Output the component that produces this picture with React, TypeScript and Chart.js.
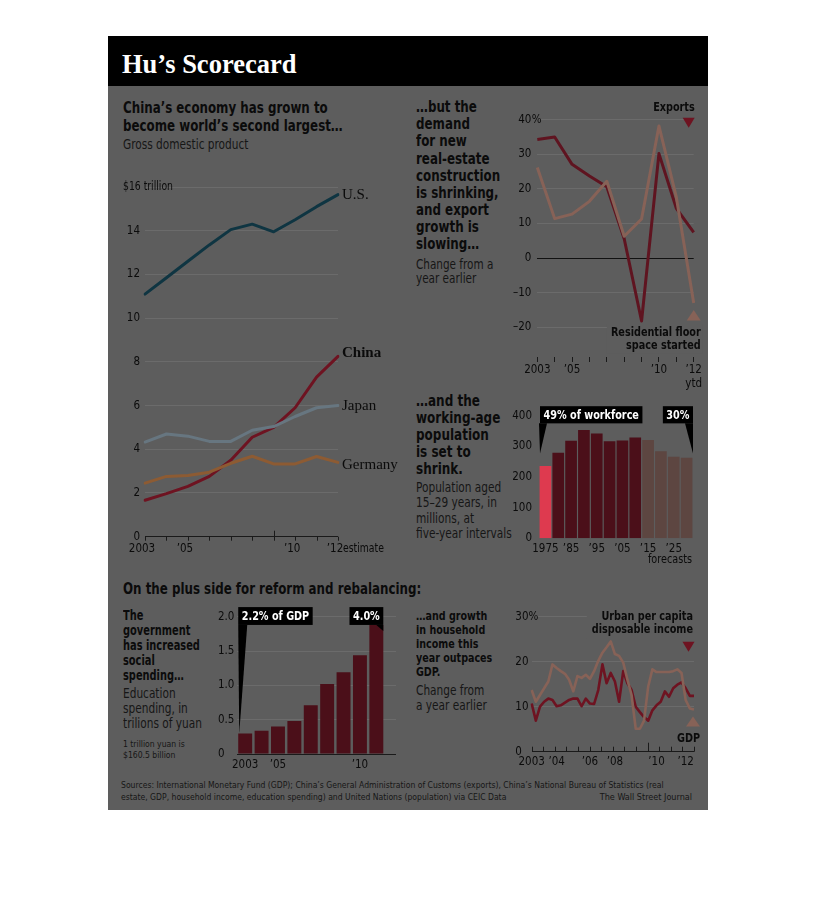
import React, { useEffect, useRef } from "react";
import { Chart, registerables } from "chart.js";

Chart.register(...registerables);

const NARROW = "'DejaVu Sans Condensed', 'Liberation Sans Narrow', sans-serif";
const SERIF = "'Liberation Serif', 'DejaVu Serif', serif";
const INK = "#0b0b0b";
const SUB_INK = "#161616";
const PANEL = "#5d5d5d";
const GRID = "#6b6b6b";
const AXIS = "#1a1a1a";
const SQUEEZE = 0.86;

Chart.defaults.font.family = NARROW;
Chart.defaults.color = INK;

// ===== 1. GDP, $ trillion =====
const gdpYears = ["2003", "2004", "2005", "2006", "2007", "2008", "2009", "2010", "2011", "2012"];
const usGdp = [11.1, 11.85, 12.6, 13.35, 14.05, 14.3, 13.95, 14.5, 15.1, 15.65];
const chinaGdp = [1.67, 1.97, 2.3, 2.76, 3.5, 4.55, 5.0, 5.9, 7.3, 8.25];
const japanGdp = [4.33, 4.7, 4.6, 4.36, 4.36, 4.87, 5.04, 5.5, 5.9, 6.0];
const germanyGdp = [2.45, 2.76, 2.8, 2.95, 3.36, 3.68, 3.33, 3.33, 3.67, 3.4];
const gdpTickLabels = ["2003", "", "’05", "", "", "", "", "’10", "", "’12"];

// ===== 2. Exports / residential floor space, % change =====
const changeYears = ["2003", "2004", "2005", "2006", "2007", "2008", "2009", "2010", "2011", "2012"];
const exportsGrowth = [34.3, 35.0, 27.1, 23.7, 20.6, 5.6, -18.2, 30.2, 14.4, 7.4];
const floorSpaceGrowth = [26.2, 11.4, 12.7, 16.4, 22.2, 6.3, 11.3, 38.2, 17.6, -13.0];
const changeTickLabels: (string | string[])[] = ["2003", "", "’05", "", "", "", "", "’10", "", ["’12", "ytd"]];
const changeYTicks = [-20, -10, 0, 10, 20, 30, 40];

// ===== 3. Population aged 15-29, millions =====
const popYears = ["1975", "1980", "1985", "1990", "1995", "2000", "2005", "2010", "2015", "2020", "2025", "2030"];
const youngPop = [236, 279, 318, 353, 342, 317, 319, 329, 321, 284, 266, 263];
const popTickLabels = ["1975", "", "’85", "", "’95", "", "’05", "", "’15", "", "’25", ""];
const firstForecast = 8;

// ===== 4. Education spending, trillion yuan =====
const eduYears = [2003, 2004, 2005, 2006, 2007, 2008, 2009, 2010, 2011];
const eduSpending = [0.3, 0.34, 0.4, 0.48, 0.71, 1.02, 1.19, 1.44, 1.88];
const eduTickYears = [2003, 2005, 2010];
const eduTickLabels = ["2003", "’05", "’10"];

// ===== 5. Urban income vs GDP, % change (quarterly) =====
const quarters = [
  "2003Q1", "2003Q2", "2003Q3", "2003Q4", "2004Q1", "2004Q2", "2004Q3", "2004Q4",
  "2005Q1", "2005Q2", "2005Q3", "2005Q4", "2006Q1", "2006Q2", "2006Q3", "2006Q4",
  "2007Q1", "2007Q2", "2007Q3", "2007Q4", "2008Q1", "2008Q2", "2008Q3", "2008Q4",
  "2009Q1", "2009Q2", "2009Q3", "2009Q4", "2010Q1", "2010Q2", "2010Q3", "2010Q4",
  "2011Q1", "2011Q2", "2011Q3", "2011Q4", "2012Q1", "2012Q2", "2012Q3", "2012Q4",
];
const incomeGrowth = [
  10.7, 6.9, 10.0, 11.1, 11.8, 11.5, 10.1, 10.3, 10.9, 11.5, 11.8, 11.8, 10.1, 11.8, 10.7, 10.6,
  13.7, 19.4, 15.2, 17.5, 15.6, 11.1, 17.9, 15.2, 13.7, 10.0, 8.8, 7.7, 6.9, 9.2, 10.3, 11.1,
  13.4, 12.2, 14.1, 14.9, 15.4, 14.1, 12.4, 12.4,
];
const gdpGrowth = [
  13.7, 11.1, 12.6, 14.1, 15.6, 19.4, 18.6, 17.9, 17.3, 16.0, 13.4, 16.8, 16.4, 17.1, 16.2, 17.9,
  20.2, 22.0, 23.2, 24.5, 21.7, 21.3, 19.8, 16.0, 12.6, 5.1, 5.1, 6.9, 14.5, 18.3, 17.7, 17.7,
  17.7, 17.7, 17.9, 18.3, 17.5, 11.5, 9.6, 9.4,
];
const quarterTickIdx = [0, 6, 14, 20, 30, 37];
const quarterTickLabels = ["2003", "’04", "’06", "’08", "’10", "’12"];

// colours (as they appear on the dark panel)
const C_US = "#0f3542";
const C_CHINA = "#6e1321";
const C_JAPAN = "#677680";
const C_GERMANY = "#8d5b33";
const C_DARKRED = "#5f1420";
const C_LIGHT = "#876257";
const C_BAR = "#4b0f19";
const C_BAR_FC = "#5d4641";
const C_BAR_HI = "#de3a4f";

const TICK_FONT = { size: 11.5 };
const ANNO_FONT = `bold 12.5px ${NARROW}`;
const noLegend = { legend: { display: false }, tooltip: { enabled: false } };

function tri(ctx: CanvasRenderingContext2D, x: number, y: number, w: number, h: number, up: boolean, color: string) {
  ctx.beginPath();
  if (up) {
    ctx.moveTo(x - w / 2, y + h / 2);
    ctx.lineTo(x + w / 2, y + h / 2);
    ctx.lineTo(x, y - h / 2);
  } else {
    ctx.moveTo(x - w / 2, y - h / 2);
    ctx.lineTo(x + w / 2, y - h / 2);
    ctx.lineTo(x, y + h / 2);
  }
  ctx.closePath();
  ctx.fillStyle = color;
  ctx.fill();
}

function label(
  ctx: CanvasRenderingContext2D,
  s: string,
  x: number,
  y: number,
  font: string,
  align: CanvasTextAlign = "left",
  base: CanvasTextBaseline = "alphabetic",
  color = INK,
  sx = SQUEEZE
) {
  ctx.save();
  ctx.font = font;
  ctx.textAlign = align;
  ctx.textBaseline = base;
  ctx.fillStyle = color;
  ctx.translate(x, y);
  ctx.scale(sx, 1);
  ctx.fillText(s, 0, 0);
  ctx.restore();
}

function squeezedWidth(ctx: CanvasRenderingContext2D, s: string, font: string) {
  ctx.save();
  ctx.font = font;
  const w = ctx.measureText(s).width * SQUEEZE;
  ctx.restore();
  return w;
}

function calloutBox(ctx: CanvasRenderingContext2D, text: string, left: number | null, right: number | null, top: number, bottom: number, wedge: number[]) {
  const w = squeezedWidth(ctx, text, ANNO_FONT) + 7;
  const l = left !== null ? left : (right as number) - w;
  ctx.fillStyle = "#000";
  ctx.fillRect(l, top, w, bottom - top);
  ctx.beginPath();
  ctx.moveTo(wedge[0], wedge[1]);
  ctx.lineTo(wedge[2], wedge[3]);
  ctx.lineTo(wedge[4], wedge[5]);
  ctx.closePath();
  ctx.fill();
  label(ctx, text, l + 3.5, (top + bottom) / 2 + 0.5, ANNO_FONT, "left", "middle", "#ffffff");
}

// ---------- chart 1 ----------
const gdpDecor = {
  id: "gdpDecor",
  afterDraw(chart: any) {
    const { ctx, chartArea: a, scales } = chart;
    const x = scales.x, y = scales.y;
    ctx.save();
    ctx.strokeStyle = AXIS;
    ctx.lineWidth = 1;
    gdpYears.forEach((_, i) => {
      const px = Math.round(x.getPixelForValue(i)) + 0.5;
      ctx.beginPath();
      ctx.moveTo(px, a.bottom - (i === 6 ? 6 : 0));
      ctx.lineTo(px, a.bottom + 4);
      ctx.stroke();
    });
    label(ctx, "$16 trillion", a.left - 22, y.getPixelForValue(16), `12px ${NARROW}`, "left", "middle");
    label(ctx, "estimate", x.getPixelForValue(9) + 5, a.bottom + 12.5, `12px ${NARROW}`, "left", "middle");
    const series: [number[], string, boolean, number][] = [
      [usGdp, "U.S.", false, 0],
      [chinaGdp, "China", true, -3],
      [japanGdp, "Japan", false, 0],
      [germanyGdp, "Germany", false, 3],
    ];
    series.forEach(([vals, name, bold, dy]) => {
      label(ctx, name, a.right + 4, y.getPixelForValue(vals[vals.length - 1]) + dy, `${bold ? "bold " : ""}15px ${SERIF}`, "left", "middle", INK, 1);
    });
    ctx.restore();
  },
};

const makeGdp = () => ({
  type: "line",
  data: {
    labels: gdpYears,
    datasets: [
      { data: usGdp, borderColor: C_US },
      { data: japanGdp, borderColor: C_JAPAN },
      { data: germanyGdp, borderColor: C_GERMANY },
      { data: chinaGdp, borderColor: C_CHINA },
    ],
  },
  options: {
    responsive: false,
    animation: false,
    layout: { padding: { top: 12, right: 62, left: 0, bottom: 0 } },
    elements: { point: { radius: 0 }, line: { tension: 0, borderWidth: 3, borderCapStyle: "round", borderJoinStyle: "round" } },
    plugins: noLegend,
    scales: {
      x: {
        type: "category",
        offset: false,
        grid: { display: false, drawTicks: false },
        border: { display: false },
        ticks: { autoSkip: false, maxRotation: 0, padding: 5, labelOffset: -3, font: TICK_FONT, callback: (_v: any, i: number) => gdpTickLabels[i] },
        afterFit: (s: any) => { s.height = 23.3; },
      },
      y: {
        min: 0,
        max: 16,
        ticks: { stepSize: 2, padding: 5, font: TICK_FONT, callback: (v: number) => (v === 16 ? "" : String(v)) },
        grid: { color: (c: any) => (c.tick && c.tick.value === 0 ? AXIS : GRID), drawTicks: false },
        border: { display: false },
        afterFit: (s: any) => { s.width = 27; },
      },
    },
  },
  plugins: [gdpDecor],
});

// ---------- chart 2 ----------
const changeDecor = {
  id: "changeDecor",
  beforeDatasetsDraw(chart: any) {
    const { ctx, chartArea: a, scales } = chart;
    const y = scales.y;
    const w = squeezedWidth(ctx, "Residential floor", ANNO_FONT);
    ctx.save();
    ctx.fillStyle = PANEL;
    const top = y.getPixelForValue(-19.2);
    ctx.fillRect(a.right + 7 - w - 4, top, w + 6, y.getPixelForValue(-27.5) - top);
    ctx.restore();
  },
  afterDraw(chart: any) {
    const { ctx, chartArea: a, scales } = chart;
    const y = scales.y;
    ctx.save();
    label(ctx, "%", a.left - 6 + 0.5, y.getPixelForValue(40), `11.5px ${NARROW}`, "left", "middle", INK, 1);
    label(ctx, "Exports", a.right + 1, y.getPixelForValue(40) - 8.7, ANNO_FONT, "right");
    tri(ctx, a.right - 5, y.getPixelForValue(40) + 3, 12, 10, false, C_CHINA);
    tri(ctx, a.right, y.getPixelForValue(-16.5), 14, 10.5, true, C_LIGHT);
    label(ctx, "Residential floor", a.right + 7, y.getPixelForValue(-22.6), ANNO_FONT, "right");
    label(ctx, "space started", a.right + 7, y.getPixelForValue(-26.2), ANNO_FONT, "right");
    ctx.restore();
  },
};

const makeChange = () => ({
  type: "line",
  data: {
    labels: changeYears,
    datasets: [
      { data: floorSpaceGrowth, borderColor: C_LIGHT },
      { data: exportsGrowth, borderColor: C_DARKRED },
    ],
  },
  options: {
    responsive: false,
    animation: false,
    layout: { padding: { top: 24.7, right: 16.3, left: 0, bottom: 0 } },
    elements: { point: { radius: 0 }, line: { tension: 0, borderWidth: 3, borderJoinStyle: "round" } },
    plugins: noLegend,
    scales: {
      x: {
        type: "category",
        offset: false,
        grid: { display: true, drawOnChartArea: false, drawTicks: true, tickLength: 5, color: AXIS },
        border: { display: false },
        ticks: { autoSkip: false, maxRotation: 0, padding: 1.5, font: TICK_FONT, callback: (_v: any, i: number) => changeTickLabels[i] },
        afterFit: (s: any) => { s.height = 38; },
      },
      y: {
        min: -28.6,
        max: 40,
        afterBuildTicks: (s: any) => { s.ticks = changeYTicks.map((v) => ({ value: v })); },
        ticks: { padding: 6, font: TICK_FONT, callback: (v: number) => (v < 0 ? "–" + Math.abs(v) : String(v)) },
        grid: { color: (c: any) => (c.tick && c.tick.value === 0 ? "#111111" : GRID), drawTicks: false },
        border: { display: false },
        afterFit: (s: any) => { s.width = 37.3; },
      },
    },
  },
  plugins: [changeDecor],
});

// ---------- chart 3 ----------
const popDecor = {
  id: "popDecor",
  afterDraw(chart: any) {
    const { ctx, chartArea: a, scales } = chart;
    const y = scales.y;
    const top = y.getPixelForValue(431);
    const bottom = y.getPixelForValue(375);
    const tip = y.getPixelForValue(277);
    ctx.save();
    calloutBox(ctx, "49% of workforce", a.left + 1, null, top, bottom, [a.left, bottom, a.left + 8, bottom, a.left + 1, tip]);
    calloutBox(ctx, "30%", null, a.right, top, bottom, [a.right - 8, bottom, a.right, bottom, a.right, tip]);
    label(ctx, "forecasts", a.right - 1, a.bottom + 25, `12.5px ${NARROW}`, "right");
    ctx.restore();
  },
};

const makePop = () => ({
  type: "bar",
  data: {
    labels: popYears,
    datasets: [
      {
        data: youngPop,
        backgroundColor: youngPop.map((_, i) => (i === 0 ? C_BAR_HI : i >= firstForecast ? C_BAR_FC : C_BAR)),
        categoryPercentage: 0.91,
        barPercentage: 1,
      },
    ],
  },
  options: {
    responsive: false,
    animation: false,
    layout: { padding: { top: 20.7, right: 12, left: 0, bottom: 0 } },
    plugins: noLegend,
    scales: {
      x: {
        grid: { display: false, drawTicks: false },
        border: { display: false },
        ticks: { autoSkip: false, maxRotation: 0, padding: 3.5, font: TICK_FONT, callback: (_v: any, i: number) => popTickLabels[i] },
        afterFit: (s: any) => { s.height = 31.7; },
      },
      y: {
        min: 0,
        max: 400,
        ticks: { stepSize: 100, padding: 7, font: TICK_FONT },
        grid: { display: false, drawTicks: false },
        border: { display: false },
        afterFit: (s: any) => { s.width = 39; },
      },
    },
  },
  plugins: [popDecor],
});

// ---------- chart 4 ----------
const eduDecor = {
  id: "eduDecor",
  afterDraw(chart: any) {
    const { ctx, scales } = chart;
    const y = scales.y;
    const bars = chart.getDatasetMeta(0).data;
    const first = bars[0];
    const last = bars[bars.length - 1];
    const top = y.getPixelForValue(2.14);
    const bottom = y.getPixelForValue(1.88);
    const fl = first.x - first.width / 2;
    const lr = last.x + last.width / 2;
    ctx.save();
    calloutBox(ctx, "2.2% of GDP", fl, null, top, bottom, [fl, bottom, fl + 9, bottom, fl + 1, first.y]);
    calloutBox(ctx, "4.0%", null, lr, top, bottom, [lr - 7, bottom, lr, bottom, lr, bottom + 6]);
    ctx.restore();
  },
};

const makeEdu = () => ({
  type: "bar",
  data: {
    datasets: [
      {
        data: eduYears.map((yr, i) => ({ x: yr, y: eduSpending[i] })),
        backgroundColor: C_BAR,
        categoryPercentage: 1,
        barPercentage: 0.85,
      },
    ],
  },
  options: {
    responsive: false,
    animation: false,
    layout: { padding: { top: 16.7, right: 9, left: 0, bottom: 0 } },
    plugins: noLegend,
    scales: {
      x: {
        type: "linear",
        min: 2002.5,
        max: 2012.2,
        offset: false,
        afterBuildTicks: (s: any) => { s.ticks = eduTickYears.map((v) => ({ value: v })); },
        grid: { display: false, drawTicks: false, offset: false },
        border: { display: false },
        ticks: { autoSkip: false, maxRotation: 0, padding: 4.5, font: TICK_FONT, callback: (v: number) => eduTickLabels[eduTickYears.indexOf(v)] },
        afterFit: (s: any) => { s.height = 21; },
      },
      y: {
        min: 0,
        max: 2,
        ticks: { stepSize: 0.5, crossAlign: "far", font: TICK_FONT, callback: (v: number) => (v === 0 ? "0" : v.toFixed(1)) },
        grid: { color: (c: any) => (c.tick && c.tick.value === 0 ? AXIS : GRID), drawTicks: false },
        border: { display: false },
        afterFit: (s: any) => { s.width = 19; },
      },
    },
  },
  plugins: [eduDecor],
});

// ---------- chart 5 ----------
const incomeDecor = {
  id: "incomeDecor",
  beforeDatasetsDraw(chart: any) {
    const { ctx, chartArea: a, scales } = chart;
    const y = scales.y;
    const w = squeezedWidth(ctx, "disposable income", ANNO_FONT);
    ctx.save();
    ctx.fillStyle = PANEL;
    const top = y.getPixelForValue(31.5);
    ctx.fillRect(a.right - 1 - w - 5, top, w + 8, y.getPixelForValue(25.2) - top);
    ctx.restore();
  },
  afterDraw(chart: any) {
    const { ctx, chartArea: a, scales } = chart;
    const x = scales.x, y = scales.y;
    ctx.save();
    ctx.strokeStyle = AXIS;
    ctx.lineWidth = 1;
    for (let k = 0; k <= 14; k++) {
      const px = Math.round(x.getPixelForValue((k * (quarters.length - 1)) / 14)) + 0.5;
      ctx.beginPath();
      ctx.moveTo(px, a.bottom);
      ctx.lineTo(px, a.bottom - (k === 10 ? 9 : 5));
      ctx.stroke();
    }
    ctx.font = `11.5px ${NARROW}`;
    const w30 = ctx.measureText("30").width;
    label(ctx, "%", y.left + w30, y.getPixelForValue(30), `11.5px ${NARROW}`, "left", "middle", INK, 1);
    label(ctx, "Urban per capita", a.right - 1, y.getPixelForValue(29.3), ANNO_FONT, "right");
    label(ctx, "disposable income", a.right - 1, y.getPixelForValue(26.3), ANNO_FONT, "right");
    tri(ctx, a.right - 5.5, y.getPixelForValue(23.3), 12, 10, false, C_CHINA);
    tri(ctx, a.right - 1, y.getPixelForValue(6.7), 14, 10, true, C_LIGHT);
    label(ctx, "GDP", a.right + 6, y.getPixelForValue(2.2), ANNO_FONT, "right");
    ctx.restore();
  },
};

const makeIncome = () => ({
  type: "line",
  data: {
    labels: quarters,
    datasets: [
      { data: gdpGrowth, borderColor: C_LIGHT },
      { data: incomeGrowth, borderColor: C_CHINA },
    ],
  },
  options: {
    responsive: false,
    animation: false,
    layout: { padding: { top: 16.7, right: 11, left: 0, bottom: 0 } },
    elements: { point: { radius: 0 }, line: { tension: 0, borderWidth: 2.6, borderJoinStyle: "round" } },
    plugins: noLegend,
    scales: {
      x: {
        type: "category",
        offset: false,
        afterBuildTicks: (s: any) => { s.ticks = quarterTickIdx.map((v) => ({ value: v })); },
        grid: { display: false, drawTicks: false },
        border: { display: false },
        ticks: { autoSkip: false, maxRotation: 0, padding: 3.5, font: TICK_FONT, callback: (_v: any, i: number) => quarterTickLabels[i] },
        afterFit: (s: any) => { s.height = 23.3; },
      },
      y: {
        min: 0,
        max: 30,
        ticks: { stepSize: 10, crossAlign: "far", font: TICK_FONT, callback: (v: number) => String(v) },
        grid: { color: (c: any) => (c.tick && c.tick.value === 0 ? AXIS : GRID), drawTicks: false },
        border: { display: false },
        afterFit: (s: any) => { s.width = 16.3; },
      },
    },
  },
  plugins: [incomeDecor],
});

function ChartCanvas({ x, y, w, h, make }: { x: number; y: number; w: number; h: number; make: () => any }) {
  const ref = useRef<HTMLCanvasElement | null>(null);
  useEffect(() => {
    if (!ref.current) return;
    const chart = new Chart(ref.current, make());
    return () => chart.destroy();
  }, [make]);
  return <canvas ref={ref} width={w} height={h} style={{ position: "absolute", left: x, top: y, width: w, height: h }} />;
}

function Lines({ x, right, b, size, lh, bold = false, lines, color = INK, family = NARROW, sx = 1 }: any) {
  const asc = family === SERIF ? 0.891 : 0.928;
  const desc = family === SERIF ? 0.216 : 0.236;
  const top = b - ((lh - (asc + desc) * size) / 2 + asc * size);
  const style: any = {
    position: "absolute",
    top,
    fontFamily: family,
    fontSize: size,
    fontWeight: bold ? 700 : 400,
    lineHeight: `${lh}px`,
    color,
    whiteSpace: "pre",
    transform: `scaleX(${sx})`,
  };
  if (right !== undefined) {
    style.right = 816 - right;
    style.textAlign = "right";
    style.transformOrigin = "right top";
  } else {
    style.left = x;
    style.transformOrigin = "left top";
  }
  return (
    <div style={style}>
      {lines.map((l: string, i: number) => (
        <div key={i}>{l}</div>
      ))}
    </div>
  );
}

export default function App() {
  return (
    <div style={{ position: "absolute", left: 0, top: 0, width: 816, height: 880, background: "#ffffff" }}>
      <div style={{ position: "absolute", left: 108, top: 36, width: 600, height: 774, background: PANEL }} />
      <div style={{ position: "absolute", left: 108, top: 36, width: 600, height: 50, background: "#000000" }} />
      <Lines x={122} b={73.3} size={26.5} lh={30} bold family={SERIF} color="#ffffff" lines={["Hu’s Scorecard"]} />

      <Lines x={123} b={113.3} size={15.5} lh={18.4} bold sx={0.85} lines={["China’s economy has grown to", "become world’s second largest…"]} />
      <Lines x={123} b={148.3} size={13.5} lh={16} sx={0.87} color={SUB_INK} lines={["Gross domestic product"]} />

      <Lines x={416} b={113} size={15} lh={17.1} bold sx={0.88} lines={["…but the", "demand", "for new", "real-estate", "construction", "is shrinking,", "and export", "growth is", "slowing…"]} />
      <Lines x={416} b={268.3} size={13.5} lh={14} sx={0.86} color={SUB_INK} lines={["Change from a", "year earlier"]} />

      <Lines x={416} b={406.5} size={15} lh={17.1} bold sx={0.89} lines={["…and the", "working-age", "population", "is set to", "shrink."]} />
      <Lines x={416} b={492.3} size={13.5} lh={15.3} sx={0.87} color={SUB_INK} lines={["Population aged", "15–29 years, in", "millions, at", "five-year intervals"]} />

      <Lines x={123} b={594.5} size={15.5} lh={18} bold sx={0.85} lines={["On the plus side for reform and rebalancing:"]} />
      <Lines x={123} b={620} size={13.5} lh={15} bold sx={0.81} lines={["The", "government", "has increased", "social", "spending…"]} />
      <Lines x={123} b={698.3} size={13.5} lh={14.7} sx={0.87} color={SUB_INK} lines={["Education", "spending, in", "trilions of yuan"]} />
      <Lines x={123} b={746.7} size={9.5} lh={11} sx={0.9} color={SUB_INK} lines={["1 trillion yuan is", "$160.5 billion"]} />

      <Lines x={416} b={620.7} size={12.8} lh={14} bold sx={0.83} lines={["…and growth", "in household", "income this", "year outpaces", "GDP."]} />
      <Lines x={416} b={695} size={13.5} lh={15} sx={0.87} color={SUB_INK} lines={["Change from", "a year earlier"]} />

      <Lines
        x={121}
        b={788}
        size={9}
        lh={12}
        sx={0.95}
        color={SUB_INK}
        lines={[
          "Sources: International Monetary Fund (GDP); China’s General Administration of Customs (exports), China’s National Bureau of Statistics (real",
          "estate, GDP, household income, education spending) and United Nations (population) via CEIC Data",
        ]}
      />
      <Lines right={692} b={800} size={9} lh={12} color={SUB_INK} lines={["The Wall Street Journal"]} />

      <ChartCanvas x={118} y={175} w={282} h={385} make={makeGdp} />
      <ChartCanvas x={500} y={95} w={210} h={300} make={makeChange} />
      <ChartCanvas x={500} y={395} w={205} h={175} make={makePop} />
      <ChartCanvas x={218} y={600} w={187} h={175} make={makeEdu} />
      <ChartCanvas x={515} y={600} w={190} h={175} make={makeIncome} />
    </div>
  );
}
